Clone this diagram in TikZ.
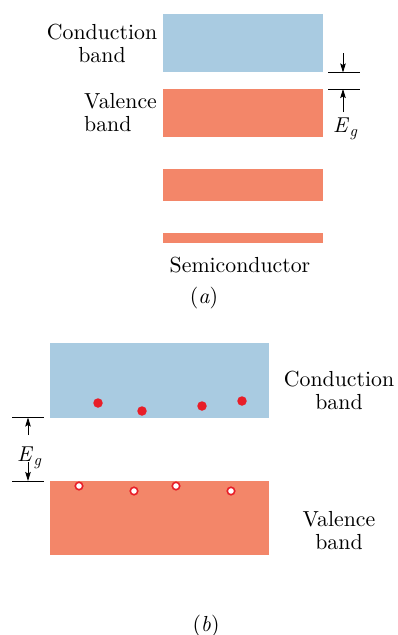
\documentclass[tikz,border=0pt]{standalone}
\usepackage{fontspec}
\setmainfont{lmroman10-regular.otf}[ItalicFont=lmroman10-italic.otf,BoldFont=lmroman10-bold.otf]
\usetikzlibrary{arrows.meta}
\definecolor{cband}{RGB}{169,203,225}
\definecolor{vband}{RGB}{243,134,105}
\definecolor{edot}{RGB}{232,30,40}
\newcommand{\egsym}{\textit{E}\kern0.5pt\raisebox{-4.5pt}{\fontsize{16}{16}\selectfont\textit{g}}}
\begin{document}
\begin{tikzpicture}[x=1pt,y=-1pt,
  bandbox/.style={draw=none,inner sep=0pt,outer sep=0pt,anchor=north west},
  lbl/.style={inner sep=0pt,font=\fontsize{21.8}{23}\selectfont},
  eglbl/.style={inner sep=0pt,font=\fontsize{21.5}{24}\selectfont},
  tickline/.style={line width=0.8pt},
  egarrow/.style={line width=0.8pt,-{Stealth[length=9pt,width=5.5pt,inset=1.5pt]}},
  electron/.style={circle,fill=edot,draw=none,minimum size=9.5pt,inner sep=0pt},
  hole/.style={circle,fill=white,draw=edot,line width=1.6pt,minimum size=7.5pt,inner sep=0pt}]
\useasboundingbox (0,0) rectangle (398,635);

% ---------- (a) ----------
\node[bandbox,fill=cband,minimum width=160pt,minimum height=58pt] (acb) at (163,14) {};
\node[bandbox,fill=vband,minimum width=160pt,minimum height=48pt] (avb) at (163,89) {};
\node[bandbox,fill=vband,minimum width=160pt,minimum height=32pt] (ab3) at (163,169) {};
\node[bandbox,fill=vband,minimum width=160pt,minimum height=10pt] (ab4) at (163,233) {};

\node[lbl,align=center,anchor=south] (acl) at (102,63) {Conduction\\band};
\node[lbl,align=left,anchor=south west] (avl) at (84,132) {Valence\\band};
\node[lbl,anchor=base] (semi) at (240,272) {Semiconductor};
\node[lbl,anchor=base] (capa) at (204,303) {(\textit{a})};

\coordinate (atl) at (328,72.5);
\coordinate (atr) at (360,72.5);
\coordinate (abl) at (328,89);
\coordinate (abr) at (360,89);
\draw[tickline] (atl) -- (atr);
\draw[tickline] (abl) -- (abr);
\coordinate (aas) at (343,53);
\coordinate (abs) at (343,112);
\draw[egarrow] (aas) -- (aas |- atl);
\draw[egarrow] (abs) -- (abs |- abl);
\node[eglbl,anchor=base west] (aeg) at (333,132) {\egsym};

% ---------- (b) ----------
\node[bandbox,fill=cband,minimum width=219pt,minimum height=75pt] (bcb) at (50,343) {};
\node[bandbox,fill=vband,minimum width=219pt,minimum height=74pt] (bvb) at (50,481) {};

\node[electron] (e1) at (98,403) {};
\node[electron] (e2) at (142,411) {};
\node[electron] (e3) at (202,406) {};
\node[electron] (e4) at (242,401) {};
\node[hole] (h1) at (79,486) {};
\node[hole] (h2) at (134,491) {};
\node[hole] (h3) at (176,486) {};
\node[hole] (h4) at (231,491) {};

\node[lbl,align=center,anchor=south] (bcl) at (339,410) {Conduction\\band};
\node[lbl,align=center,anchor=south] (bvl) at (339,550) {Valence\\band};
\node[lbl,anchor=base] (capb) at (206,631) {(\textit{b})};

\coordinate (btl) at (12,417.5);
\coordinate (btr) at (44,417.5);
\coordinate (bbl) at (12,481);
\coordinate (bbr) at (44,481);
\draw[tickline] (btl) -- (btr);
\draw[tickline] (bbl) -- (bbr);
\coordinate (bas) at (28,435);
\coordinate (bbs) at (28,462);
\draw[egarrow] (bas) -- (bas |- btl);
\draw[egarrow] (bbs) -- (bbs |- bbl);
\node[eglbl,anchor=base west] (beg) at (17,461) {\egsym};
\end{tikzpicture}
\end{document}
